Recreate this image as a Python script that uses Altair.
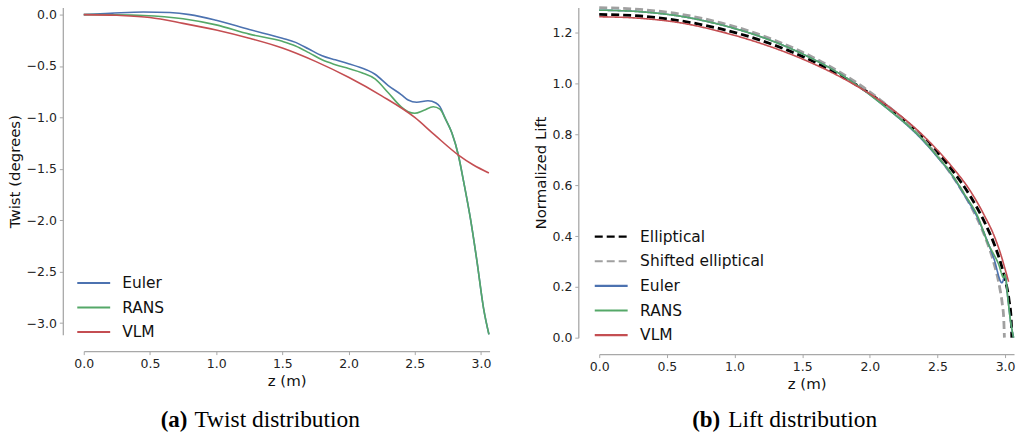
import altair as alt
import pandas as pd

# ---------------- data: (a) twist distribution ----------------
twist_models = ["Euler", "RANS", "VLM"]

z_euler_t = [0, 0.2, 0.45, 0.65, 0.8, 1.0, 1.25, 1.5, 1.6, 1.7, 1.8, 1.9, 2.0, 2.1, 2.15, 2.2, 2.3,
             2.4, 2.45, 2.515, 2.6, 2.66, 2.69, 2.73, 2.78, 2.83, 2.87, 2.92, 2.97, 3.02, 3.06]
twist_euler = [0, 0.012, 0.026, 0.02, 0.0, -0.055, -0.145, -0.23, -0.27, -0.335, -0.40, -0.44,
               -0.478, -0.52, -0.545, -0.58, -0.69, -0.78, -0.83, -0.852, -0.838, -0.86, -0.895,
               -1.01, -1.15, -1.37, -1.63, -1.98, -2.40, -2.86, -3.11]

z_rans_t = [0, 0.2, 0.45, 0.75, 1.0, 1.25, 1.5, 1.6, 1.7, 1.8, 1.9, 2.0, 2.1, 2.2, 2.3, 2.4, 2.45,
            2.5, 2.57, 2.64, 2.69, 2.73, 2.78, 2.83, 2.87, 2.92, 2.97, 3.02, 3.06]
twist_rans = [0, -0.002, -0.008, -0.04, -0.10, -0.19, -0.26, -0.305, -0.37, -0.44, -0.487, -0.525,
              -0.565, -0.625, -0.76, -0.90, -0.945, -0.96, -0.93, -0.896, -0.92, -1.01, -1.15,
              -1.37, -1.63, -1.98, -2.40, -2.86, -3.11]

z_vlm_t = [0, 0.25, 0.5, 0.75, 1.0, 1.25, 1.5, 1.75, 2.0, 2.25, 2.5, 2.65, 2.83, 2.94, 3.06]
twist_vlm = [0, -0.007, -0.028, -0.085, -0.15, -0.23, -0.325, -0.455, -0.61, -0.79, -1.0, -1.17,
             -1.366, -1.46, -1.54]

# ---------------- data: (b) lift distribution ----------------
lift_methods = ["Elliptical", "Shifted elliptical", "Euler", "RANS", "VLM"]

z_ell = [0, 0.3, 0.6, 0.9, 1.2, 1.5, 1.8, 2.1, 2.4, 2.6, 2.75, 2.85, 2.92, 2.97, 3.0, 3.03, 3.045, 3.05]
lift_ell = [1.273, 1.267, 1.248, 1.216, 1.170, 1.108, 1.028, 0.923, 0.786, 0.666, 0.551, 0.453,
            0.368, 0.290, 0.229, 0.146, 0.073, 0.0]

z_shift = [0, 0.3, 0.6, 0.9, 1.2, 1.5, 1.8, 2.1, 2.4, 2.6, 2.75, 2.85, 2.92, 2.96, 2.98, 2.99, 2.995]
lift_shift = [1.300, 1.293, 1.274, 1.240, 1.191, 1.125, 1.039, 0.927, 0.778, 0.645, 0.515, 0.400,
              0.289, 0.198, 0.130, 0.075, 0.0]

z_euler_l = [0, 0.3, 0.6, 0.9, 1.2, 1.5, 1.8, 2.1, 2.4, 2.5, 2.6, 2.7, 2.8, 2.85, 2.916, 2.977,
             3.0, 3.02, 3.04, 3.063]
lift_euler = [1.290, 1.284, 1.266, 1.232, 1.184, 1.118, 1.032, 0.915, 0.772, 0.711, 0.645, 0.560,
              0.468, 0.405, 0.314, 0.216, 0.246, 0.157, 0.066, 0.0]

z_rans_l = [0, 0.3, 0.6, 0.9, 1.2, 1.5, 1.8, 2.1, 2.4, 2.5, 2.6, 2.7, 2.8, 2.867, 2.953, 2.99,
            3.0, 3.02, 3.04, 3.063]
lift_rans = [1.290, 1.284, 1.266, 1.232, 1.184, 1.118, 1.032, 0.915, 0.775, 0.714, 0.648, 0.565,
             0.475, 0.380, 0.288, 0.236, 0.249, 0.157, 0.066, 0.0]

z_vlm_l = [0, 0.3, 0.6, 0.9, 1.2, 1.5, 1.8, 2.1, 2.4, 2.6, 2.75, 2.85, 2.92, 2.97, 3.0, 3.026]
lift_vlm = [1.264, 1.258, 1.240, 1.205, 1.158, 1.098, 1.022, 0.925, 0.793, 0.678, 0.572, 0.478,
            0.400, 0.325, 0.270, 0.220]

x_ticks = [0.0, 0.5, 1.0, 1.5, 2.0, 2.5, 3.0]
twist_ticks = [0.0, -0.5, -1.0, -1.5, -2.0, -2.5, -3.0]
lift_ticks = [0.0, 0.2, 0.4, 0.6, 0.8, 1.0, 1.2]

caption_a = ["(a)", "Twist distribution"]
caption_b = ["(b)", "Lift distribution"]

# ---------------- styling ----------------
FONT = "DejaVu Sans"
SERIF = "Liberation Serif"
GRAY = "#a8a8a8"
BLUE, GREEN, RED = "#4c72b0", "#55a868", "#c44e52"
lift_colors = ["#000000", "#a0a0a0", BLUE, GREEN, RED]
lift_dashes = [[8, 4], [8, 4], [1, 0], [1, 0], [1, 0]]
lift_widths = [2.8, 2.8, 1.6, 1.6, 1.6]


def make_axis(values, title, offset):
    return alt.Axis(values=values, format=".1f", title=title, offset=offset, grid=False,
                    domainColor=GRAY, domainWidth=1.3, tickColor=GRAY, tickSize=3.5, tickWidth=1,
                    labelFont=FONT, labelFontSize=12.5, labelColor="#222222", labelPadding=3,
                    labelFlush=False, labelOverlap=False, labelBound=False,
                    titleFont=FONT, titleFontSize=15, titleFontWeight="normal",
                    titleColor="#111111", titlePadding=4)


def make_legend(x, y, spacing, stroke_width):
    return alt.Legend(orient="none", legendX=x, legendY=y, title=None, symbolType="stroke",
                      symbolSize=1089, clipHeight=16, rowPadding=spacing - 16, padding=0,
                      symbolStrokeWidth=stroke_width,
                      labelFont=FONT, labelFontSize=15.5, labelColor="#111111", labelOffset=11)


# ---------------- panel (a) ----------------
twist_df = pd.concat([
    pd.DataFrame({"z": z_euler_t, "twist": twist_euler, "model": "Euler"}),
    pd.DataFrame({"z": z_rans_t, "twist": twist_rans, "model": "RANS"}),
    pd.DataFrame({"z": z_vlm_t, "twist": twist_vlm, "model": "VLM"}),
], ignore_index=True)

x_a = alt.X("z:Q", scale=alt.Scale(domain=[0, 3.065], nice=False, zero=False),
            axis=make_axis(x_ticks, "z (m)", 16.5))
y_a = alt.Y("twist:Q", scale=alt.Scale(domain=[-3.113, 0.068], nice=False, zero=False),
            axis=make_axis(twist_ticks, "Twist (degrees)", 21))
color_a = alt.Color("model:N", scale=alt.Scale(domain=twist_models, range=[BLUE, GREEN, RED]),
                    legend=make_legend(-7.5, 268.3, 23.5, 2))

layers_a = [
    alt.Chart(twist_df).transform_filter(alt.datum.model == m)
    .mark_line(interpolate="monotone", strokeWidth=1.6, clip=False)
    .encode(x=x_a, y=y_a, color=color_a)
    for m in twist_models
]

cap_df_a = pd.DataFrame({"label": [caption_a[0]], "text": [caption_a[1]]})
cap_a1 = alt.Chart(cap_df_a).mark_text(align="right", baseline="alphabetic", font=SERIF,
                                       fontSize=23, fontWeight="bold", color="black").encode(
    text="label:N", x=alt.value(104), y=alt.value(420.3))
cap_a2 = alt.Chart(cap_df_a).mark_text(align="left", baseline="alphabetic", font=SERIF,
                                       fontSize=23.5, color="black").encode(
    text="text:N", x=alt.value(111), y=alt.value(420.3))

left = alt.layer(*layers_a, cap_a1, cap_a2).properties(width=407, height=328)

# ---------------- panel (b) ----------------
lift_df = pd.concat([
    pd.DataFrame({"zb": z_ell, "lift": lift_ell, "method": "Elliptical"}),
    pd.DataFrame({"zb": z_shift, "lift": lift_shift, "method": "Shifted elliptical"}),
    pd.DataFrame({"zb": z_euler_l, "lift": lift_euler, "method": "Euler"}),
    pd.DataFrame({"zb": z_rans_l, "lift": lift_rans, "method": "RANS"}),
    pd.DataFrame({"zb": z_vlm_l, "lift": lift_vlm, "method": "VLM"}),
], ignore_index=True)

x_b = alt.X("zb:Q", scale=alt.Scale(domain=[0, 3.066], nice=False, zero=False),
            axis=make_axis(x_ticks, "z (m)", 16.5))
y_b = alt.Y("lift:Q", scale=alt.Scale(domain=[0, 1.30], nice=False, zero=False),
            axis=make_axis(lift_ticks, "Normalized Lift", 21))
leg_b = make_legend(-6, 221.7, 23.7, 2.2)
color_b = alt.Color("method:N", scale=alt.Scale(domain=lift_methods, range=lift_colors),
                    legend=leg_b)
dash_b = alt.StrokeDash("method:N", scale=alt.Scale(domain=lift_methods, range=lift_dashes),
                        legend=leg_b)

layers_b = [
    alt.Chart(lift_df).transform_filter(alt.datum.method == m)
    .mark_line(interpolate="monotone", clip=False, strokeWidth=w)
    .encode(x=x_b, y=y_b, color=color_b, strokeDash=dash_b)
    for m, w in zip(lift_methods, lift_widths)
]

cap_df_b = pd.DataFrame({"label": [caption_b[0]], "text": [caption_b[1]]})
cap_b1 = alt.Chart(cap_df_b).mark_text(align="right", baseline="alphabetic", font=SERIF,
                                       fontSize=23, fontWeight="bold", color="black").encode(
    text="label:N", x=alt.value(121.3), y=alt.value(420.3))
cap_b2 = alt.Chart(cap_df_b).mark_text(align="left", baseline="alphabetic", font=SERIF,
                                       fontSize=23.5, color="black").encode(
    text="text:N", x=alt.value(129.3), y=alt.value(420.3))

right = alt.layer(*layers_b, cap_b1, cap_b2).properties(width=416, height=331)

chart = (
    alt.hconcat(left, right, spacing=40)
    .resolve_scale(x="independent", y="independent", color="independent",
                   strokeDash="independent")
    .resolve_legend(color="independent", strokeDash="independent")
    .properties(padding={"left": 7, "top": 1, "right": 0, "bottom": 0})
    .configure_view(stroke=None)
)

chart.save("out.html", embed_options={"renderer": "svg", "actions": False})
